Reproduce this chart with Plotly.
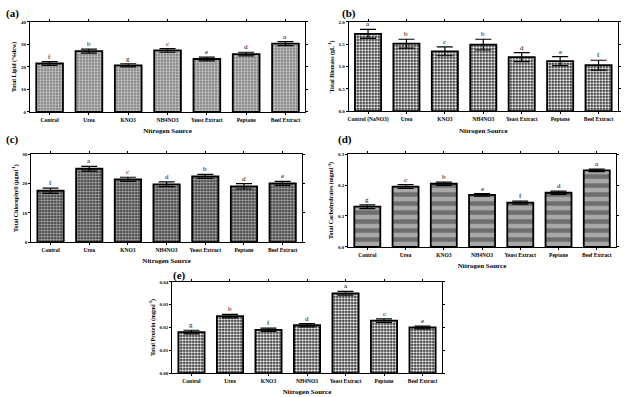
import plotly.graph_objects as go

cats_main = ["Control", "Urea", "KNO3", "NH4NO3", "Yeast Extract", "Peptone", "Beef Extract"]
cats_b = ["Control (NaNO3)", "Urea", "KNO3", "NH4NO3", "Yeast Extract", "Peptone", "Beef Extract"]

lipid = [21.5, 27.0, 20.7, 27.3, 23.5, 25.7, 30.3]
lipid_err = [0.8, 0.9, 0.7, 0.8, 0.8, 0.8, 0.9]
lipid_sig = ["f", "b", "g", "c", "e", "d", "a"]

biomass = [1.73, 1.51, 1.34, 1.49, 1.21, 1.12, 1.03]
biomass_err = [0.10, 0.10, 0.10, 0.12, 0.10, 0.10, 0.11]
biomass_sig = ["a", "b", "c", "b", "d", "e", "f"]

chloro = [17.5, 25.0, 21.4, 19.7, 22.4, 19.0, 20.0]
chloro_err = [0.9, 0.8, 0.7, 0.8, 0.7, 0.9, 0.7]
chloro_sig = ["f", "a", "c", "d", "b", "d", "e"]

carbo = [0.130, 0.195, 0.204, 0.168, 0.143, 0.175, 0.247]
carbo_err = [0.006, 0.006, 0.005, 0.004, 0.005, 0.005, 0.004]
carbo_sig = ["g", "c", "b", "e", "f", "d", "a"]

protein = [0.018, 0.025, 0.019, 0.021, 0.035, 0.023, 0.020]
protein_err = [0.0008, 0.0008, 0.0007, 0.0007, 0.0008, 0.0008, 0.0006]
protein_sig = ["g", "b", "f", "d", "a", "c", "e"]

FONT = "Liberation Serif"
W, H = 624, 397

panels = [
    dict(lab="(a)", lx=4, ly=14, cats=cats_main, y=lipid, e=lipid_err, sig=lipid_sig,
         xd=[0.048, 0.489], yd=[0.718, 0.945], rng=[0, 40], dt=10, fmt="d",
         title="Total Lipid (%dcw)",
         pat=dict(shape="+", size=3, solidity=0.3, fgcolor="#dcdcdc", bgcolor="#8a8a8a", fillmode="replace")),
    dict(lab="(b)", lx=340, ly=14, cats=cats_b, y=biomass, e=biomass_err, sig=biomass_sig,
         xd=[0.559, 0.990], yd=[0.720, 0.945], rng=[0, 2.0], dt=0.5, fmt=".1f",
         title="Total Biomass (gL<sup>-1</sup>)",
         pat=dict(shape=".", size=3, solidity=0.5, fgcolor="#ffffff", bgcolor="#111111", fillmode="replace")),
    dict(lab="(c)", lx=4, ly=139, cats=cats_main, y=chloro, e=chloro_err, sig=chloro_sig,
         xd=[0.050, 0.484], yd=[0.390, 0.612], rng=[0, 30], dt=10, fmt="d",
         title="Total Chlorophyll (μgml<sup>-1</sup>)",
         pat=dict(shape=".", size=3, solidity=0.5, fgcolor="#aaaaaa", bgcolor="#333333", fillmode="replace")),
    dict(lab="(d)", lx=336, ly=139, cats=cats_main, y=carbo, e=carbo_err, sig=carbo_sig,
         xd=[0.558, 0.987], yd=[0.378, 0.612], rng=[0, 0.3], dt=0.1, fmt=".1f",
         title="Total Carbohydrates (mgml<sup>-1</sup>)",
         pat=dict(shape="-", size=9, solidity=0.5, fgcolor="#6e6e6e", bgcolor="#a8a8a8", fillmode="replace")),
    dict(lab="(e)", lx=171, ly=275, cats=cats_main, y=protein, e=protein_err, sig=protein_sig,
         xd=[0.276, 0.708], yd=[0.060, 0.290], rng=[0, 0.04], dt=0.01, fmt=".2f",
         title="Total Protein (mgml<sup>-1</sup>)",
         pat=dict(shape=".", size=3, solidity=0.5, fgcolor="#ffffff", bgcolor="#111111", fillmode="replace")),
]

fig = go.Figure()
annotations = []
for i, p in enumerate(panels):
    n = "" if i == 0 else str(i + 1)
    xa, ya = "x" + n, "y" + n
    fig.add_trace(go.Bar(
        x=p["cats"], y=p["y"], xaxis=xa, yaxis=ya, width=0.68,
        marker=dict(color=p["pat"]["bgcolor"], pattern=p["pat"],
                    line=dict(color="black", width=1.8)),
        error_y=dict(type="data", array=p["e"], visible=True, color="black",
                     thickness=1.2, width=8),
        showlegend=False, hoverinfo="skip"))
    for c, v, er, s in zip(p["cats"], p["y"], p["e"], p["sig"]):
        annotations.append(dict(x=c, y=v + er, xref=xa, yref=ya, text=s, showarrow=False,
                                yanchor="bottom", yshift=-1,
                                font=dict(family=FONT, size=7, color="#000000")))
    annotations.append(dict(x=p["lx"] / W, y=1 - p["ly"] / H, xref="paper", yref="paper",
                            text="<b>%s</b>" % p["lab"], showarrow=False, xanchor="left",
                            yanchor="middle", font=dict(family=FONT, size=11, color="black")))
    axx = dict(domain=p["xd"], anchor=ya, showline=True, linecolor="black", linewidth=1,
               mirror="ticks", ticks="outside", ticklen=2, tickcolor="black", automargin=False,
               tickfont=dict(family=FONT, size=5.5, color="black"),
               title=dict(text="<b>Nitrogen Source</b>", font=dict(family=FONT, size=7, color="black"),
                          standoff=6),
               tickprefix="<b>", ticksuffix="</b>", fixedrange=True)
    axy = dict(domain=p["yd"], anchor=xa, range=p["rng"], dtick=p["dt"], tick0=0,
               tickformat=p["fmt"], showline=True, linecolor="black", linewidth=1,
               mirror="ticks", ticks="outside", ticklen=2, tickcolor="black", showgrid=False,
               zeroline=False, automargin=False,
               tickfont=dict(family=FONT, size=5, color="black"),
               tickprefix="<b>", ticksuffix="</b>",
               title=dict(text="<b>%s</b>" % p["title"], font=dict(family=FONT, size=6, color="black"),
                          standoff=3))
    fig.update_layout(**{"xaxis" + n: axx, "yaxis" + n: axy})

fig.update_layout(width=W, height=H, margin=dict(l=0, r=0, t=0, b=0, autoexpand=False),
                  paper_bgcolor="white", plot_bgcolor="white",
                  annotations=annotations, bargap=0.3)
fig.write_html("out.html", config={"displayModeBar": False},
               post_script="document.body.style.margin='0';document.body.style.overflow='hidden';")
